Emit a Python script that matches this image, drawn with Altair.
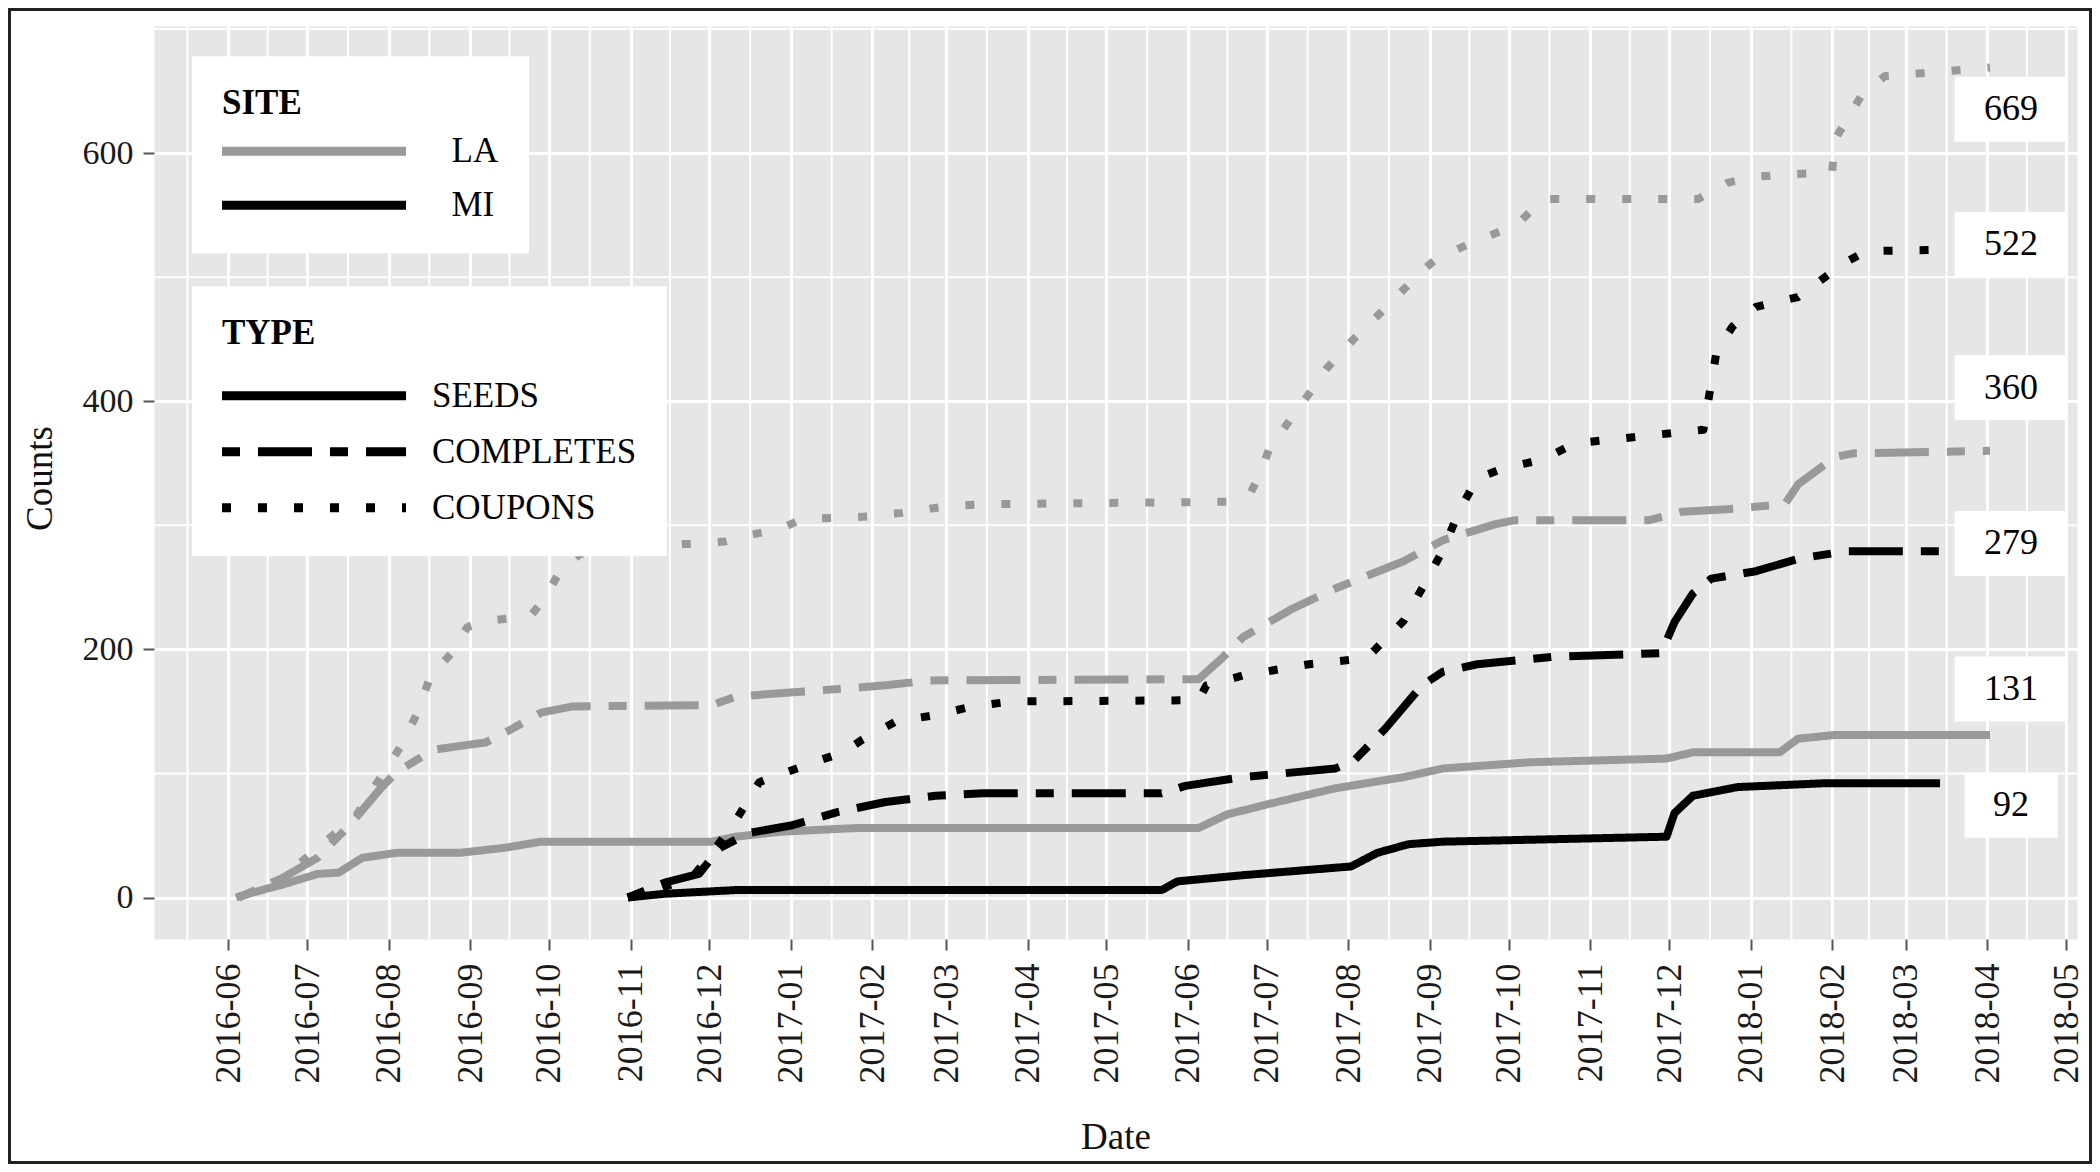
import altair as alt
import pandas as pd

FONT = "Liberation Serif"

# ---------------- data ----------------
la_seeds_dates = ["2016-06-04", "2016-06-12", "2016-06-21", "2016-07-05", "2016-07-13", "2016-07-22",
                  "2016-08-04", "2016-08-28", "2016-09-14", "2016-09-28", "2016-12-02", "2016-12-11",
                  "2016-12-28", "2017-01-26", "2017-06-05", "2017-06-16", "2017-07-01", "2017-07-27",
                  "2017-08-22", "2017-09-06", "2017-10-09", "2017-11-30", "2017-12-10", "2018-01-12",
                  "2018-01-19", "2018-02-02", "2018-04-02"]
la_seeds_vals = [0, 5, 10, 19, 20, 32, 36, 36, 40, 45, 45, 49, 53, 56, 56, 67, 75, 88, 97, 104, 109,
                 112, 117, 117, 128, 131, 131]

la_completes_dates = ["2016-06-05", "2016-06-21", "2016-07-05", "2016-07-17", "2016-07-29", "2016-08-04",
                      "2016-08-18", "2016-08-31", "2016-09-07", "2016-09-17", "2016-09-28", "2016-10-10",
                      "2016-12-02", "2016-12-11", "2017-01-06", "2017-02-06", "2017-02-23", "2017-06-05",
                      "2017-06-14", "2017-06-22", "2017-07-10", "2017-07-27", "2017-08-22", "2017-09-06",
                      "2017-09-26", "2017-10-03", "2017-11-23", "2017-12-06", "2017-12-23", "2018-01-14",
                      "2018-01-19", "2018-02-02", "2018-02-09", "2018-04-02"]
la_completes_vals = [0, 15, 32, 58, 88, 101, 119, 123, 125, 136, 149, 154, 155, 162, 166, 171, 175, 176,
                     193, 210, 232, 249, 271, 288, 301, 304, 304, 311, 313, 317, 333, 355, 358, 360]

la_coupons_dates = ["2016-06-05", "2016-06-21", "2016-07-08", "2016-07-20", "2016-07-29", "2016-08-06",
                    "2016-08-12", "2016-08-17", "2016-08-25", "2016-08-31", "2016-09-08", "2016-09-24",
                    "2016-09-29", "2016-10-06", "2016-10-13", "2016-11-01", "2016-12-07", "2016-12-16",
                    "2016-12-28", "2017-01-05", "2017-01-30", "2017-02-12", "2017-02-28", "2017-03-15",
                    "2017-06-17", "2017-06-25", "2017-06-28", "2017-07-02", "2017-07-16", "2017-07-24",
                    "2017-08-03", "2017-08-15", "2017-08-29", "2017-09-03", "2017-09-17", "2017-10-04",
                    "2017-10-14", "2017-12-12", "2017-12-23", "2018-01-03", "2018-02-01", "2018-02-02",
                    "2018-02-12", "2018-02-21", "2018-04-02"]
la_coupons_vals = [0, 15, 45, 67, 97, 123, 149, 179, 197, 218, 223, 227, 240, 266, 277, 282, 287, 292,
                   297, 305, 307, 310, 315, 317, 319, 327, 340, 362, 403, 427, 450, 475, 505, 514, 528,
                   542, 563, 563, 576, 581, 585, 611, 646, 662, 669]

mi_seeds_dates = ["2016-10-31", "2016-11-14", "2016-12-11", "2017-05-22", "2017-05-28", "2017-06-22",
                  "2017-07-27", "2017-08-02", "2017-08-12", "2017-08-24", "2017-09-06", "2017-11-30",
                  "2017-12-03", "2017-12-10", "2017-12-27", "2018-01-28", "2018-03-14"]
mi_seeds_vals = [0, 3, 6, 6, 13, 18, 24, 25, 36, 43, 45, 49, 68, 82, 89, 92, 92]

mi_completes_dates = ["2016-10-31", "2016-11-14", "2016-11-27", "2016-12-05", "2016-12-16", "2017-01-01",
                      "2017-01-19", "2017-02-06", "2017-02-25", "2017-03-15", "2017-05-22", "2017-05-31",
                      "2017-06-22", "2017-07-27", "2017-08-03", "2017-08-15", "2017-08-29", "2017-09-06",
                      "2017-09-19", "2017-10-18", "2017-11-28", "2017-12-03", "2017-12-10", "2017-12-17",
                      "2018-01-03", "2018-01-19", "2018-02-06", "2018-03-14"]
mi_completes_vals = [0, 12, 19, 40, 52, 58, 69, 77, 82, 84, 84, 90, 97, 104, 110, 136, 171, 182, 188,
                     194, 197, 222, 245, 257, 263, 273, 279, 279]

mi_coupons_dates = ["2016-10-31", "2016-11-24", "2016-12-02", "2016-12-11", "2016-12-20", "2016-12-25",
                    "2017-01-11", "2017-01-21", "2017-01-28", "2017-02-10", "2017-02-25", "2017-03-11",
                    "2017-03-26", "2017-06-05", "2017-06-08", "2017-06-22", "2017-07-17", "2017-08-08",
                    "2017-08-22", "2017-08-29", "2017-09-06", "2017-09-12", "2017-09-19", "2017-09-29",
                    "2017-10-14", "2017-10-26", "2017-12-14", "2017-12-19", "2017-12-25", "2018-01-03",
                    "2018-01-19", "2018-02-06", "2018-02-14", "2018-03-14"]
mi_coupons_vals = [0, 15, 36, 62, 93, 97, 110, 117, 127, 142, 147, 154, 158, 159, 171, 179, 188, 193,
                   223, 249, 280, 311, 338, 346, 353, 366, 377, 440, 460, 476, 484, 512, 521, 522]

sites = ["LA", "MI"]
site_colors = ["#999999", "#000000"]
types = ["SEEDS", "COMPLETES", "COUPONS"]
type_dashes = [[1, 0], [18, 18, 54, 18], [9, 27]]

label_text = ["669", "522", "360", "279", "131", "92"]
label_y = [635.4, 526.5, 410.8, 285.4, 168.0, 74.3]
label_date = "2018-04-10"

major_months = ["2016-06", "2016-07", "2016-08", "2016-09", "2016-10", "2016-11", "2016-12",
                "2017-01", "2017-02", "2017-03", "2017-04", "2017-05", "2017-06", "2017-07",
                "2017-08", "2017-09", "2017-10", "2017-11", "2017-12", "2018-01", "2018-02",
                "2018-03", "2018-04", "2018-05"]
y_major = [0, 200, 400, 600]
y_minor = [100, 300, 500, 700]

x_domain = [alt.DateTime(year=2016, month=5, date=3, hours=19),
            alt.DateTime(year=2018, month=5, date=5, hours=2)]
y_domain = [-33.45, 702.45]

# ---------------- tables ----------------
series = [
    ("LA", "SEEDS", la_seeds_dates, la_seeds_vals),
    ("LA", "COMPLETES", la_completes_dates, la_completes_vals),
    ("LA", "COUPONS", la_coupons_dates, la_coupons_vals),
    ("MI", "SEEDS", mi_seeds_dates, mi_seeds_vals),
    ("MI", "COMPLETES", mi_completes_dates, mi_completes_vals),
    ("MI", "COUPONS", mi_coupons_dates, mi_coupons_vals),
]
rows = []
for site, typ, ds, vs in series:
    for d, v in zip(ds, vs):
        rows.append({"date": d + "T00:00:00", "v": v, "site": site, "type": typ})
lines_df = pd.DataFrame(rows)

# minor vertical grid: midpoints between monthly breaks
ext = pd.to_datetime(["2016-05-01"] + [m + "-01" for m in major_months] + ["2018-06-01"])
mids = [ext[i] + (ext[i + 1] - ext[i]) / 2 for i in range(len(ext) - 1)]
lo, hi = pd.Timestamp("2016-05-03T19:00"), pd.Timestamp("2018-05-05T02:00")
minor_x_df = pd.DataFrame({"date": [m.strftime("%Y-%m-%dT%H:%M:%S") for m in mids if lo <= m <= hi]})
minor_y_df = pd.DataFrame({"v": y_minor})

labels_df = pd.DataFrame({
    "date": [label_date + "T00:00:00"] * len(label_text),
    "v": label_y,
    "text": label_text,
    "box": [str(len(t)) for t in label_text],
})
frame_df = pd.DataFrame({"a": [0]})

major_values = [alt.DateTime(year=int(m[:4]), month=int(m[5:]), date=1) for m in major_months]

W, H = 1923, 913

x_axis = alt.Axis(values=major_values, format="%Y-%m", labelAngle=270, labelFont=FONT,
                  labelFontSize=36, labelColor="#1a1a1a", labelPadding=13, labelFlush=False,
                  labelOverlap=False, tickSize=11, tickWidth=2, tickColor="#555555", domain=False,
                  grid=True, gridColor="white", gridWidth=3, title="Date", titleFont=FONT,
                  titleFontSize=37, titleFontWeight="normal", titleColor="#111111",
                  titleBaseline="alphabetic", titleY=209)
y_axis = alt.Axis(values=y_major, labelFont=FONT, labelFontSize=34, labelColor="#1a1a1a",
                  labelPadding=10, tickSize=11, tickWidth=2, tickColor="#555555", domain=False,
                  grid=True, gridColor="white", gridWidth=3, title="Counts", titleFont=FONT,
                  titleFontSize=37, titleFontWeight="normal", titleColor="#111111",
                  titleBaseline="alphabetic", titleX=-103, titleY=452)

X = alt.X("date:T", scale=alt.Scale(domain=x_domain, nice=False), axis=x_axis, title="Date")
Y = alt.Y("v:Q", scale=alt.Scale(domain=y_domain, nice=False, zero=False), axis=y_axis, title="Counts")

line_sym = "M-4,0L4,0"

site_legend = alt.Legend(orient="none", legendX=38, legendY=30.3, padding=30, fillColor="white",
                         title="SITE", titleFont=FONT, titleFontSize=35, titleFontWeight="bold",
                         titleColor="black", titlePadding=2.5, labelFont=FONT, labelFontSize=35,
                         labelColor="black", labelOffset=110, labelLimit=0, symbolType=line_sym,
                         symbolSize=2116, symbolStrokeWidth=9, symbolOffset=64.5,
                         symbolFillColor="transparent", rowPadding=8)
type_legend = alt.Legend(orient="none", legendX=38, legendY=260.3, padding=30, fillColor="white",
                         title="TYPE", titleFont=FONT, titleFontSize=35, titleFontWeight="bold",
                         titleColor="black", titlePadding=17, labelFont=FONT, labelFontSize=35,
                         labelColor="black", labelOffset=90.5, labelLimit=0, symbolType=line_sym,
                         symbolSize=2116, symbolStrokeWidth=9, symbolOffset=64.5,
                         symbolFillColor="transparent", symbolStrokeColor="black", rowPadding=10)

minor_x = alt.Chart(minor_x_df).mark_rule(color="white", strokeWidth=2).encode(x=X)
minor_y = alt.Chart(minor_y_df).mark_rule(color="white", strokeWidth=2).encode(y=Y)

lines = alt.Chart(lines_df).mark_line(strokeWidth=8, strokeCap="butt", strokeJoin="round").encode(
    x=X, y=Y,
    color=alt.Color("site:N", scale=alt.Scale(domain=sites, range=site_colors), legend=site_legend),
    strokeDash=alt.StrokeDash("type:N", scale=alt.Scale(domain=types, range=type_dashes),
                              legend=type_legend),
)

box3 = "M-1.738,-1L1.738,-1L1.738,1L-1.738,1Z"
box2 = "M-1.431,-1L1.431,-1L1.431,1L-1.431,1Z"
boxes = alt.Chart(labels_df).mark_point(filled=True, color="white", opacity=1, strokeWidth=0).encode(
    x=X, y=Y,
    shape=alt.Shape("box:N", scale=alt.Scale(domain=["3", "2"], range=[box3, box2]), legend=None),
    size=alt.value(4225),
)
texts = alt.Chart(labels_df).mark_text(font=FONT, fontSize=36, color="black", align="center",
                                       baseline="middle").encode(x=X, y=Y, text="text:N")

frame = alt.Chart(frame_df).mark_rect(fill="transparent", stroke="#222222", strokeWidth=3).encode(
    x=alt.value(-144.5), x2=alt.value(W + 15 - 1.5), y=alt.value(-16.5), y2=alt.value(H + 225 - 1.5))

chart = alt.layer(minor_x, minor_y, lines, boxes, texts, frame).properties(
    width=W, height=H,
    autosize=alt.AutoSizeParams(type="none"),
    padding={"left": 146, "top": 18, "right": 15, "bottom": 225},
    background="white",
).configure(font=FONT).configure_view(fill="#E6E6E6", stroke="transparent")

chart.save("out.html", embed_options={"renderer": "svg", "actions": False})
